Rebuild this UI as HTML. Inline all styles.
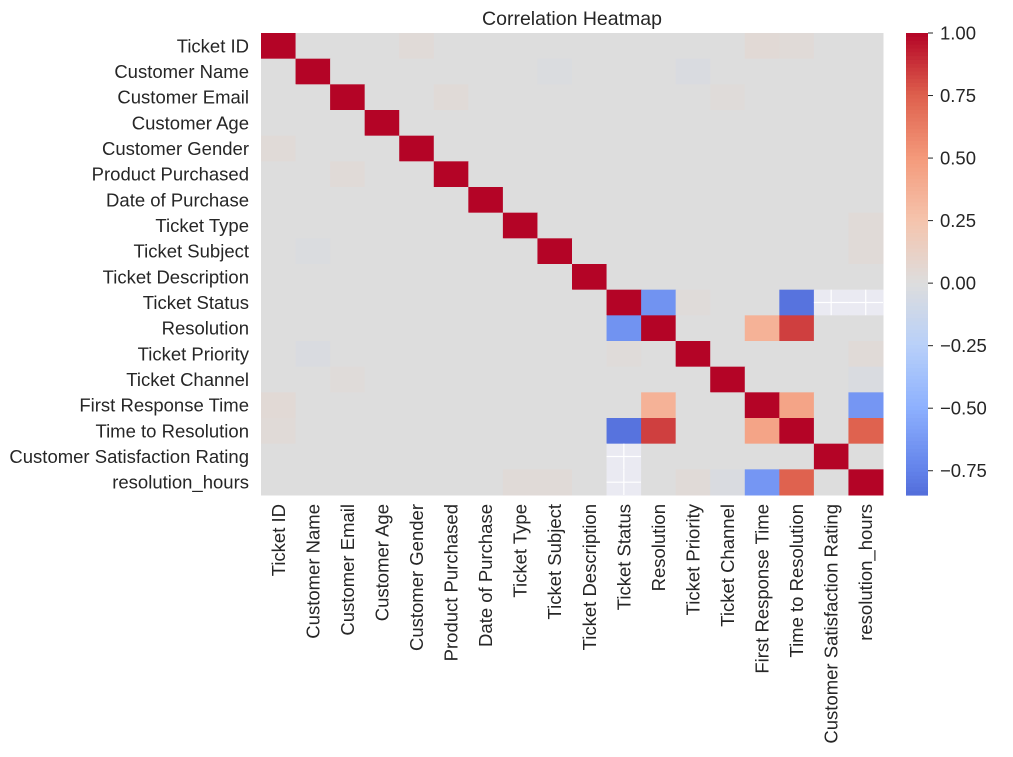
<!DOCTYPE html>
<html><head><meta charset="utf-8"><style>
html,body{margin:0;padding:0;background:#fff;}
svg{display:block;font-family:"Liberation Sans",Arial,sans-serif;}
</style></head><body>
<svg id="chart" width="1013" height="757" xmlns="http://www.w3.org/2000/svg">
<text x="572" y="25" text-anchor="middle" font-size="19.5" fill="#262626">Correlation Heatmap</text>
<g id="cells"></g>
<g id="ylabels"></g>
<g id="xlabels"></g>
<g id="cbar"></g>
</svg>
<script>
const labels = ["Ticket ID","Customer Name","Customer Email","Customer Age","Customer Gender","Product Purchased","Date of Purchase","Ticket Type","Ticket Subject","Ticket Description","Ticket Status","Resolution","Ticket Priority","Ticket Channel","First Response Time","Time to Resolution","Customer Satisfaction Rating","resolution_hours"];
// notable off-diagonal correlations [i, j, value]; null = NaN
const pairs = [
 [10,11,-0.66],[10,15,-0.82],[10,16,null],[10,17,null],
 [11,14,0.36],[11,15,0.84],[14,15,0.44],[14,17,-0.64],[15,17,0.74],
 [0,14,0.04],[0,15,0.03],[1,8,-0.02],[2,5,0.03],[12,17,0.03],[4,0,0.03],[7,17,0.03],[8,17,0.03],[1,12,-0.03],[13,17,-0.03],[13,2,0.02],[10,12,0.02]
];
const cbTicks = [1.00,0.75,0.50,0.25,0.00,-0.25,-0.50,-0.75];
const vmin = -0.847, vmax = 1.0;

const N = labels.length;
const X0=261, Y0=33, W=622, H=462;
const cw = W/N, ch = H/N;
const xPos = i => X0 + i*cw;
const yPos = i => Y0 + i*ch;

const stops = [[0,[59,76,192]],[0.125,[98,130,234]],[0.25,[141,176,254]],[0.375,[184,208,249]],[0.5,[221,221,221]],[0.625,[245,196,173]],[0.75,[244,154,123]],[0.875,[222,96,77]],[1,[180,4,38]]];
function color(v){
  let t=(v+1)/2; t=Math.max(0,Math.min(1,t));
  for(let k=1;k<stops.length;k++){ if(t<=stops[k][0]){ const a=stops[k-1],b=stops[k]; const f=(t-a[0])/(b[0]-a[0]);
    const c=a[1].map((x,q)=>Math.round(x+(b[1][q]-x)*f)); return `rgb(${c[0]},${c[1]},${c[2]})`; } }
  return 'rgb(180,4,38)';
}
const M = [];
for(let i=0;i<N;i++){ M.push([]); for(let j=0;j<N;j++) M[i].push(i===j?1:0); }
pairs.forEach(p=>{ M[p[0]][p[1]]=p[2]; M[p[1]][p[0]]=p[2]; });

const NS="http://www.w3.org/2000/svg";
const cells=document.getElementById('cells');
for(let i=0;i<N;i++) for(let j=0;j<N;j++){
  const r=document.createElementNS(NS,'rect');
  
  
  r.setAttribute('x',xPos(j)); r.setAttribute('y',yPos(i));
  r.setAttribute('width',cw+0.5); r.setAttribute('height',ch+0.5);
  const v=M[i][j];
  r.setAttribute('fill', v===null ? '#eaeaf2' : color(v));
  cells.appendChild(r);
  if(v===null){
    const cx=xPos(j)+cw/2, cy=yPos(i)+ch/2;
    [[cx,yPos(i),cx,yPos(i)+ch],[xPos(j),cy,xPos(j)+cw,cy]].forEach(c=>{
      const l=document.createElementNS(NS,'line');
      
      
      l.setAttribute('x1',c[0]);l.setAttribute('y1',c[1]);l.setAttribute('x2',c[2]);l.setAttribute('y2',c[3]);
      l.setAttribute('stroke','#fff');l.setAttribute('stroke-width','1.2');
      cells.appendChild(l);
    });
  }
}
const yl=document.getElementById('ylabels'), xl=document.getElementById('xlabels');
labels.forEach((s,i)=>{
  const t=document.createElementNS(NS,'text');
  
  
  t.setAttribute('x',X0-12); t.setAttribute('y',yPos(i)+ch/2+6.5);
  t.setAttribute('text-anchor','end'); t.setAttribute('font-size','18.5'); t.setAttribute('fill','#262626');
  t.textContent=s; yl.appendChild(t);
  const u=document.createElementNS(NS,'text');
  
  
  const x=xPos(i)+cw/2+6.5, y=Y0+H+9;
  u.setAttribute('transform',`translate(${x},${y}) rotate(-90)`);
  u.setAttribute('text-anchor','end'); u.setAttribute('font-size','18.5'); u.setAttribute('fill','#262626');
  u.textContent=s; xl.appendChild(u);
});
// colorbar
const cb=document.getElementById('cbar');
const CX=906, CW=22;
const cy = v => Y0 + (vmax-v)/(vmax-vmin)*H;
const steps=120;
for(let k=0;k<steps;k++){
  const v1=vmax-(vmax-vmin)*k/steps;
  const r=document.createElementNS(NS,'rect');
  
  
  r.setAttribute('x',CX); r.setAttribute('y',cy(v1)); r.setAttribute('width',CW); r.setAttribute('height',H/steps+0.6);
  r.setAttribute('fill',color(v1-(vmax-vmin)/steps/2)); cb.appendChild(r);
}
cbTicks.forEach(v=>{
  const l=document.createElementNS(NS,'line');
  
  
  l.setAttribute('x1',CX+CW);l.setAttribute('x2',CX+CW+5);l.setAttribute('y1',cy(v));l.setAttribute('y2',cy(v));
  l.setAttribute('stroke','#262626'); cb.appendChild(l);
  const t=document.createElementNS(NS,'text');
  
  
  t.setAttribute('x',CX+CW+12); t.setAttribute('y',cy(v)+6.5); t.setAttribute('font-size','18.5'); t.setAttribute('fill','#262626');
  t.textContent=(v<0?'\u22120':'')+(v<0?Math.abs(v).toFixed(2).slice(1):v.toFixed(2)); cb.appendChild(t);
});
</script>
</body></html>
